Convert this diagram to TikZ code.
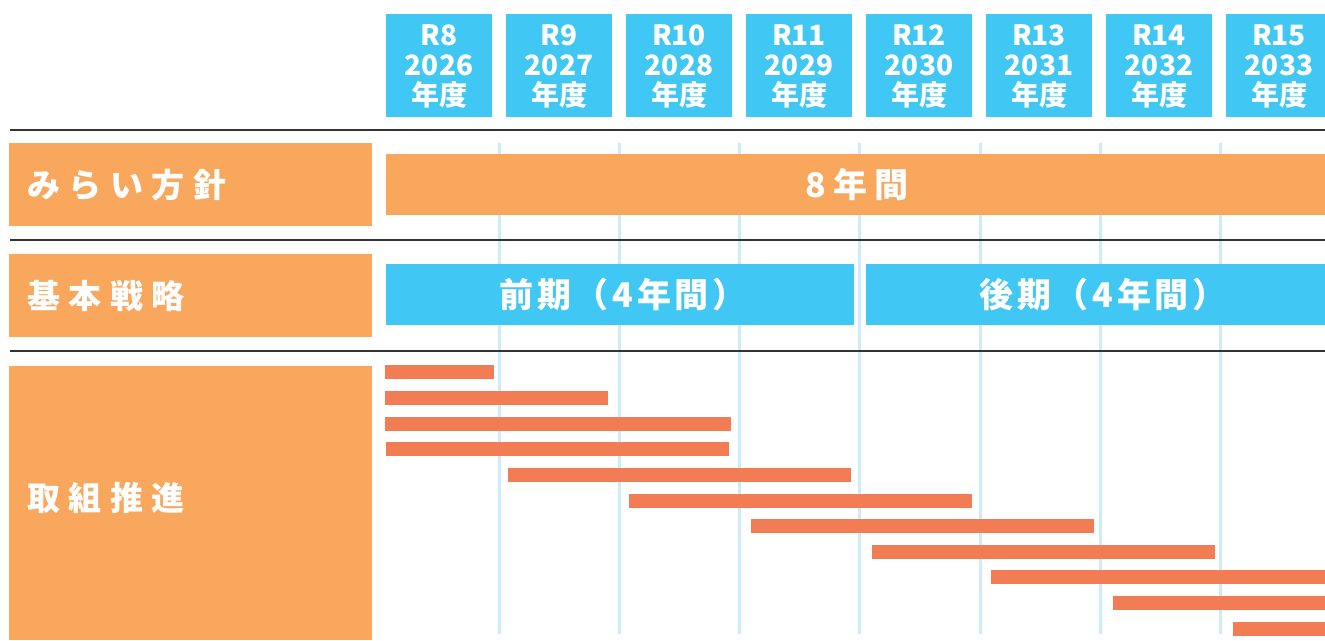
\documentclass[tikz,border=0pt]{standalone}
\usepackage{fontspec}
\newfontfamily\jp{Noto Sans CJK JP}
\newfontfamily\jpsp{Noto Sans CJK JP}[LetterSpace=26]
\newfontfamily\jpspb{Noto Sans CJK JP}[LetterSpace=11]
\newfontfamily\jpspc{Noto Sans CJK JP}[LetterSpace=22]
\definecolor{lblorange}{HTML}{F8A75C}
\definecolor{hdrblue}{HTML}{41C7F3}
\definecolor{barsalmon}{HTML}{F27D55}
\definecolor{gridblue}{HTML}{CDEBF8}
\definecolor{rulegray}{HTML}{333333}
\begin{document}
\begin{tikzpicture}[x=1pt,y=-1pt,
  hdrbox/.style={fill=hdrblue,draw=none},
  hdrtext/.style={text=white,align=center,font=\jp\bfseries\fontsize{28}{30}\selectfont,inner sep=0pt},
  lblbox/.style={fill=lblorange,draw=none},
  lbltext/.style={text=white,anchor=west,inner sep=0pt,font=\jpsp\bfseries\fontsize{33}{36}\selectfont},
  bartext/.style={text=white,inner sep=0pt,font=\jpspb\bfseries\fontsize{34}{38}\selectfont},
  bigtext/.style={text=white,inner sep=0pt,font=\jpspc\bfseries\fontsize{34}{38}\selectfont},
  gridline/.style={draw=gridblue,line width=3pt},
  sepline/.style={draw=rulegray,line width=1.8pt},
  taskbar/.style={fill=barsalmon,draw=none}]
\useasboundingbox (0,0) rectangle (1325,640);
\fill[white] (0,0) rectangle (1325,640);
% grid lines
\foreach \i in {0,...,6}{
  \coordinate (gt\i) at ({499+120.3*\i},143);
  \coordinate (gb\i) at ({499+120.3*\i},634);
  \draw[gridline] (gt\i) -- (gb\i);
}
% header boxes
\foreach \i/\r/\y in {0/R8/2026,1/R9/2027,2/R10/2028,3/R11/2029,4/R12/2030,5/R13/2031,6/R14/2032}{
  \fill[hdrbox] ({386+120*\i},14) rectangle ({492+120*\i},117);
  \node[hdrtext] (h\i) at ({439+120*\i},66) {\r\\\y\\年度};
}
\fill[hdrbox] (1226,14) rectangle (1325,117);
\node[hdrtext] (h7) at (1279,66) {R15\\2033\\年度};
% separator lines
\coordinate (s1a) at (10,130); \coordinate (s1b) at (1325,130);
\coordinate (s2a) at (10,240); \coordinate (s2b) at (1325,240);
\coordinate (s3a) at (10,351); \coordinate (s3b) at (1325,351);
\draw[sepline] (s1a) -- (s1b);
\draw[sepline] (s2a) -- (s2b);
\draw[sepline] (s3a) -- (s3b);
% label boxes
\fill[lblbox] (9,143) rectangle (372,226);
\node[lbltext] (l1) at (27,185) {みらい方針};
\fill[lblbox] (9,254) rectangle (372,337);
\node[lbltext] (l2) at (27,296) {基本戦略};
\fill[lblbox] (9,366) rectangle (372,640);
\node[lbltext] (l3) at (27,498) {取組推進};
% period bars
\fill[lblbox] (386,154) rectangle (1325,215);
\node[bigtext] (p8) at (857,185) {8年間};
\fill[hdrbox] (386,264) rectangle (854,325);
\node[bartext] (pf) at (623,295) {前期（4年間）};
\fill[hdrbox] (866,264) rectangle (1325,325);
\node[bartext] (pl) at (1103,295) {後期（4年間）};
% task bars
\foreach \a/\b/\t in {385/494/365,385/608/391,385/731/417,386/729/442,508/851/468,629/972/494,751/1094/519,872/1215/545,991/1325/570,1113/1325/596,1233/1325/622}{
  \fill[taskbar] (\a,\t) rectangle (\b,\t+14);
}
\end{tikzpicture}
\end{document}
